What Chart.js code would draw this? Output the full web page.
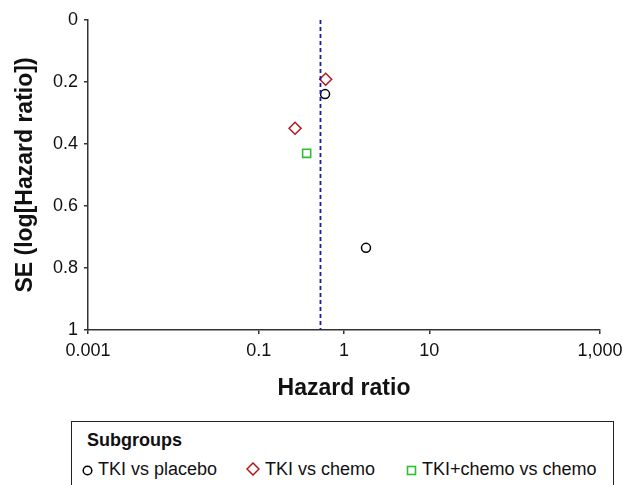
<!DOCTYPE html>
<html>
<head>
<meta charset="utf-8">
<script src="https://cdn.jsdelivr.net/npm/chart.js@4"></script>
<style>
  body { margin: 0; background: #fff; }
  #wrap { position: relative; width: 623px; height: 485px; overflow: hidden; }
  #legend {
    position: absolute; left: 71px; top: 421px; width: 541px; height: 80px;
    border: 1.5px solid #222; font-family: "Liberation Sans", Arial, sans-serif;
    color: #111; background: #fff;
  }
  #legend .ttl { position: absolute; left: 15px; top: 8px; font-weight: bold; font-size: 18px; }
  #legend .item { position: absolute; top: 37px; font-size: 18px; white-space: nowrap; }
  #legend svg { vertical-align: -1px; margin-right: 5px; }
</style>
</head>
<body>
<div id="wrap">
  <canvas id="chart1" width="623" height="485"></canvas>
  <div id="legend">
    <div class="ttl">Subgroups</div>
    <div class="item" style="left:10px"><svg width="11" height="11"><circle cx="5.5" cy="5.5" r="4.3" fill="none" stroke="#000" stroke-width="1.5"/></svg>TKI vs placebo</div>
    <div class="item" style="left:174px"><svg width="14" height="14"><polygon points="7,1 13,7 7,13 1,7" fill="none" stroke="#b5161c" stroke-width="1.5"/></svg>TKI vs chemo</div>
    <div class="item" style="left:334px"><svg width="11" height="11"><rect x="1.5" y="1.5" width="8" height="8" fill="none" stroke="#2fbf2f" stroke-width="1.6"/></svg>TKI+chemo vs chemo</div>
  </div>
</div>
<script>
// funnel plot data
var placeboHR = [0.60, 1.81];
var placeboSE = [0.239, 0.735];
var chemoHR = [0.61, 0.267];
var chemoSE = [0.191, 0.349];
var comboHR = [0.365];
var comboSE = [0.43];
var pooledHR = 0.53;
var xTicks = [0.001, 0.1, 1, 10, 1000];
var xTickLabels = ['0.001', '0.1', '1', '10', '1,000'];
var yTicks = [0, 0.2, 0.4, 0.6, 0.8, 1];
var yTickLabels = ['0', '0.2', '0.4', '0.6', '0.8', '1'];

function pts(xs, ys) {
    return xs.map(function (x, i) { return { x: x, y: ys[i] }; });
}

function labelFor(ticks, labels, v) {
    for (var i = 0; i < ticks.length; i++) {
        if (Math.abs(ticks[i] - v) < 1e-9) return labels[i];
    }
    return '';
}

var axisColor = '#333';
var ctx = document.getElementById('chart1').getContext('2d');
var chart = new Chart(ctx, {
    type: 'scatter',
    data: {
        datasets: [{
            label: 'Pooled',
            type: 'line',
            data: [{ x: pooledHR, y: 0 }, { x: pooledHR, y: 1 }],
            borderColor: '#1a1aa8',
            borderWidth: 1.8,
            borderDash: [4, 3],
            pointRadius: 0,
            fill: false
        }, {
            label: 'TKI vs placebo',
            data: pts(placeboHR, placeboSE),
            pointStyle: 'circle',
            pointRadius: 4.5,
            borderColor: '#000',
            borderWidth: 1.5,
            backgroundColor: 'rgba(0,0,0,0)'
        }, {
            label: 'TKI vs chemo',
            data: pts(chemoHR, chemoSE),
            pointStyle: 'rectRot',
            pointRadius: 6,
            borderColor: '#b5161c',
            borderWidth: 1.5,
            backgroundColor: 'rgba(0,0,0,0)'
        }, {
            label: 'TKI+chemo vs chemo',
            data: pts(comboHR, comboSE),
            pointStyle: 'rect',
            pointRadius: 5.7,
            borderColor: '#2fbf2f',
            borderWidth: 1.6,
            backgroundColor: 'rgba(0,0,0,0)'
        }]
    },
    options: {
        responsive: false,
        animation: false,
        layout: { padding: { top: 20, right: 23, left: 0, bottom: 75 } },
        plugins: {
            legend: { display: false },
            tooltip: { enabled: false }
        },
        scales: {
            x: {
                type: 'logarithmic',
                min: 0.001,
                max: 1000,
                afterBuildTicks: function (scale) {
                    scale.ticks = xTicks.map(function (v) { return { value: v }; });
                },
                afterFit: function (scale) {
                    scale.height = 80;
                    scale.paddingLeft = 0;
                    scale.paddingRight = 0;
                },
                ticks: {
                    autoSkip: false,
                    maxRotation: 0,
                    padding: 6,
                    color: '#111',
                    font: { family: 'Liberation Sans', size: 18 },
                    callback: function (v) { return labelFor(xTicks, xTickLabels, v); }
                },
                grid: { drawOnChartArea: false, tickLength: 4, color: axisColor, lineWidth: 1.5 },
                border: { color: axisColor, width: 1.5 },
                title: {
                    display: true,
                    text: 'Hazard ratio',
                    color: '#111',
                    font: { family: 'Liberation Sans', size: 23, weight: 'bold' },
                    padding: { top: 0, bottom: 8 }
                }
            },
            y: {
                min: 0,
                max: 1,
                reverse: true,
                afterFit: function (scale) { scale.width = 88; },
                ticks: {
                    stepSize: 0.2,
                    padding: 6,
                    color: '#111',
                    font: { family: 'Liberation Sans', size: 18 },
                    callback: function (v) { return labelFor(yTicks, yTickLabels, v); }
                },
                grid: { drawOnChartArea: false, tickLength: 4, color: axisColor, lineWidth: 1.5 },
                border: { color: axisColor, width: 1.5 },
                title: {
                    display: true,
                    text: 'SE (log[Hazard ratio])',
                    color: '#111',
                    font: { family: 'Liberation Sans', size: 23, weight: 'bold' },
                    padding: { top: 12, bottom: 0 }
                }
            }
        }
    }
});
</script>
</body>
</html>
